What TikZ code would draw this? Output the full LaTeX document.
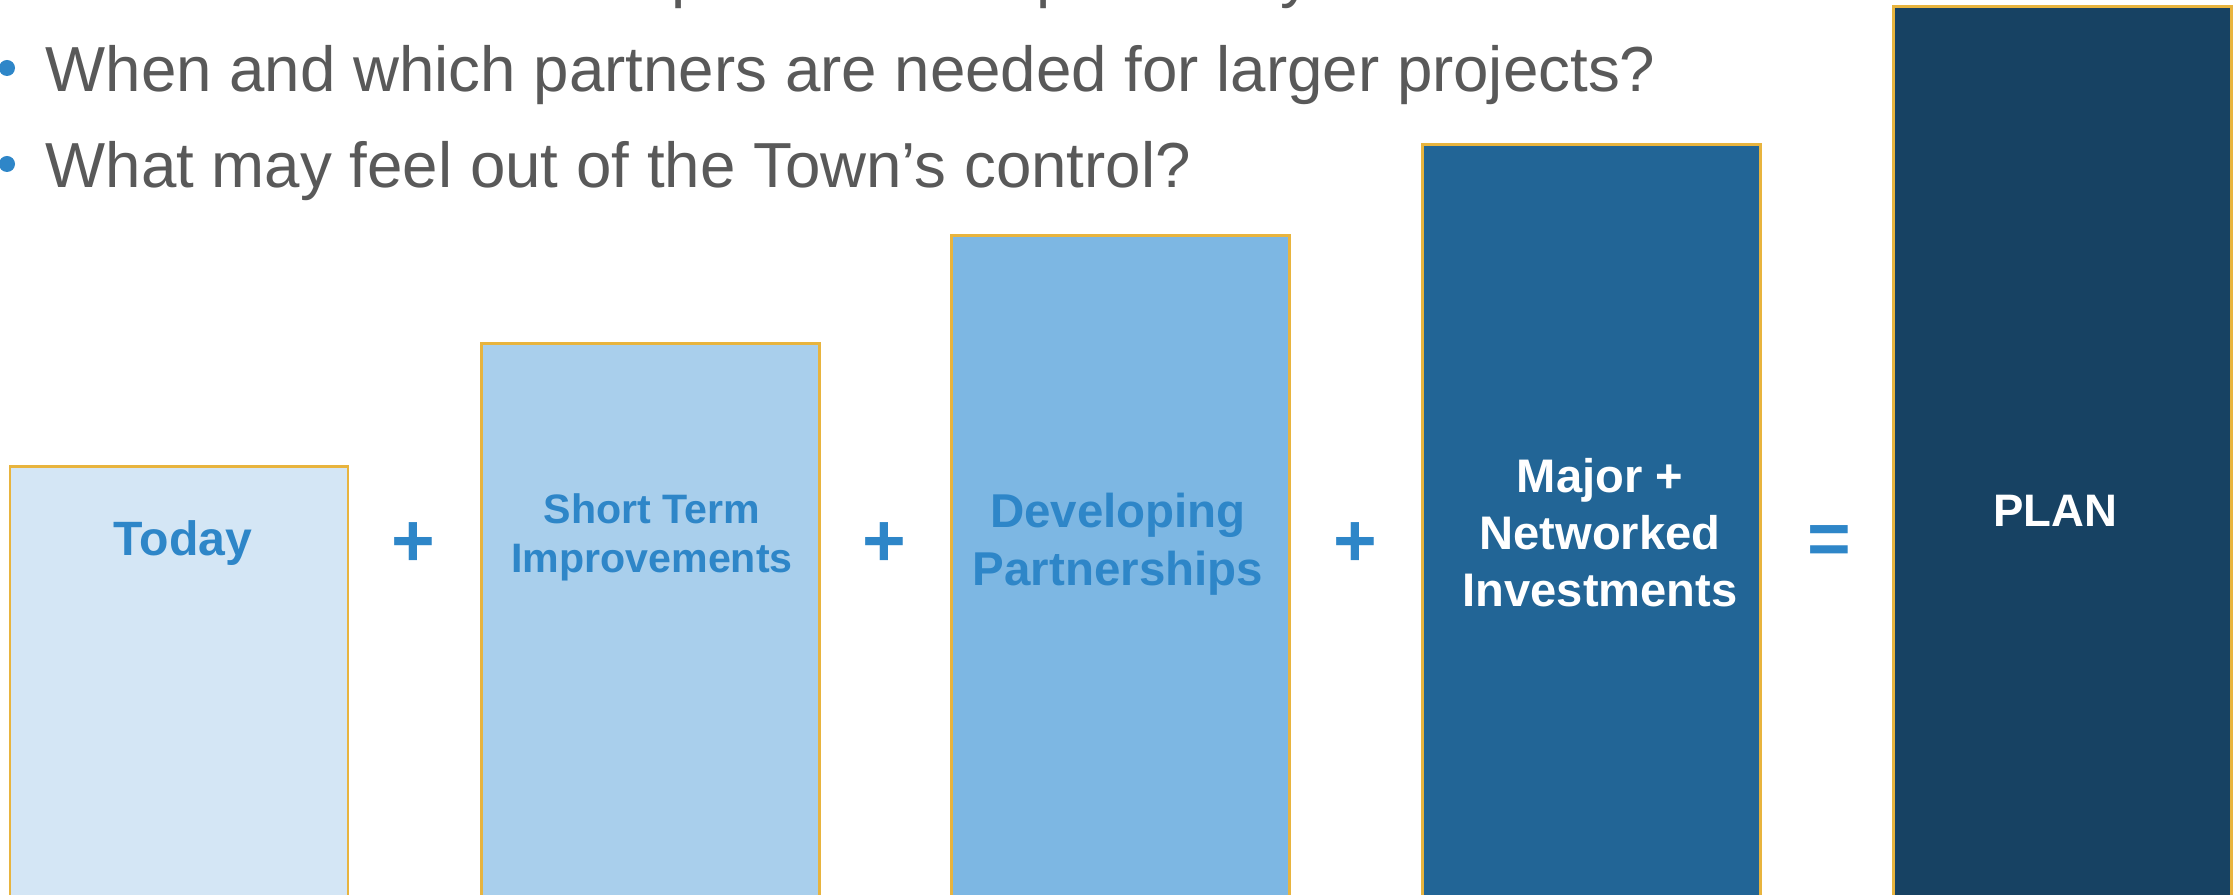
\documentclass[tikz,border=0pt]{standalone}
\usepackage{fontspec}
\setmainfont{Liberation Sans}
\usepackage{xcolor}
\usetikzlibrary{positioning}

\definecolor{txtgray}{HTML}{595959}
\definecolor{dotblue}{HTML}{2E86C8}
\definecolor{lblblue}{HTML}{2E86C8}
\definecolor{boxgold}{HTML}{E8B43E}
\definecolor{stageA}{HTML}{D4E6F5}
\definecolor{stageB}{HTML}{A9CFEC}
\definecolor{stageC}{HTML}{7DB7E3}
\definecolor{stageD}{HTML}{226596}
\definecolor{stageE}{HTML}{174263}

\begin{document}
\begin{tikzpicture}[x=0.01cm, y=-0.01cm,
    stage/.style={draw=boxgold, line width=0.85pt},
    question/.style={anchor=base west, inner sep=0pt, text=txtgray,
        font=\fontsize{18.1pt}{27pt}\selectfont},
    lbl/.style={inner sep=0pt, align=center},
    sign/.style={inner sep=0pt, text=lblblue,
        font=\fontsize{21.3pt}{24pt}\selectfont\bfseries}]

    % =================================================================
    % 1. KHUNG HINH
    % =================================================================
    \clip (0,0) rectangle (2239,895);
    \fill[white] (0,0) rectangle (2239,895);

    % =================================================================
    % 2. CAC CAU HOI (dong dau bi cat o mep tren)
    % =================================================================
    \node[question] (q1) at (45,-4) {What can the Town implement independently?};
    \node[question] (q2) at (45,92) {When and which partners are needed for larger projects?};
    \node[question] (q3) at (45,188) {What may feel out of the Town’s control?};
    \fill[dotblue] (7,68) circle[radius=0.08cm];
    \fill[dotblue] (7,164) circle[radius=0.08cm];

    % =================================================================
    % 3. CAC COT (cao dan tu trai sang phai)
    % =================================================================
    \filldraw[stage, fill=stageA] (10,467) rectangle ++(338,460);
    \filldraw[stage, fill=stageB] (481,344) rectangle ++(338,580);
    \filldraw[stage, fill=stageC] (951,236) rectangle ++(338,690);
    \filldraw[stage, fill=stageD] (1422,145) rectangle ++(338,780);
    \filldraw[stage, fill=stageE] (1893,7) rectangle ++(338,920);

    % =================================================================
    % 4. NHAN TREN CAC COT
    % =================================================================
    \node[lbl, anchor=base, text=lblblue,
        font=\fontsize{13.7pt}{16pt}\selectfont\bfseries] (today) at (183,556) {Today};
    \node[lbl, anchor=north, text=lblblue,
        font=\fontsize{11.7pt}{13.9pt}\selectfont\bfseries] (shortterm) at (652,493)
        {Short Term\\Improvements};
    \node[lbl, anchor=north, text=lblblue,
        font=\fontsize{13.5pt}{16.5pt}\selectfont\bfseries] (partners) at (1118,492)
        {Developing\\Partnerships};
    \node[lbl, anchor=north, text=white,
        font=\fontsize{13.4pt}{16.2pt}\selectfont\bfseries] (major) at (1600,458)
        {Major +\\Networked\\Investments};
    \node[lbl, anchor=base, text=white,
        font=\fontsize{12.95pt}{15pt}\selectfont\bfseries] (plan) at (2055,527) {PLAN};

    % =================================================================
    % 5. DAU CONG VA DAU BANG
    % =================================================================
    \node[sign] (plusA) at (413,545) {+};
    \node[sign] (plusB) at (884,545) {+};
    \node[sign] (plusC) at (1355,545) {+};
    \node[sign] (equal) at (1829,545) {=};

\end{tikzpicture}
\end{document}
